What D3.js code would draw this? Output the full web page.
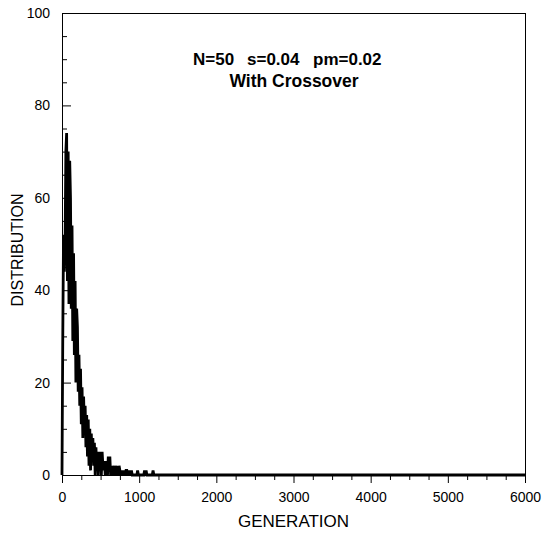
<!DOCTYPE html>
<html>
<head>
<meta charset="utf-8">
<script src="https://cdn.jsdelivr.net/npm/d3@7"></script>
<style>
  html, body { margin: 0; padding: 0; background: #fff; }
  svg { display: block; }
  text { font-family: "Liberation Sans", Arial, Helvetica, sans-serif; fill: #000; }
</style>
</head>
<body>
<svg id="chart" width="543" height="534"></svg>
<script>
// ---- data ----
const binWidth = 10;           // generations per sample
const distribution = [
  0, 30, 52, 44, 50, 70, 74, 42, 70, 37,
  68, 60, 36, 54, 29, 48, 26, 42, 20, 36,
  32, 18, 26, 15, 23, 11, 19, 8, 17, 10,
  15, 6, 13, 4, 12, 2, 10, 1, 9, 3,
  8, 2, 7, 0, 6, 1, 5, 0, 5, 1,
  5, 0, 5, 2, 1, 3, 0, 3, 1, 0,
  4, 1, 4, 0, 2, 0, 2, 1, 0, 2,
  1, 0, 2, 0, 2, 1, 0, 1, 0, 1,
  0, 1, 0, 1, 1, 0, 1, 0, 1, 0,
  1, 0, 0, 0, 0, 0, 0, 0, 1, 0,
  0, 0, 0, 0, 0, 0, 0, 1, 0, 1,
  0, 0, 0, 0, 0, 0, 0, 0, 1, 0
];
const tailGeneration = 6000;   // distribution stays at 0 up to here
const tailValue = 0;

const xMajorTicks = [0, 1000, 2000, 3000, 4000, 5000, 6000];
const xMinorStep = 250;
const yMajorTicks = [0, 20, 40, 60, 80, 100];
const yMinorStep = 5;

const titleParts = ["N=50", "s=0.04", "pm=0.02"];
const subtitle = "With Crossover";
const xLabel = "GENERATION";
const yLabel = "DISTRIBUTION";

// ---- layout ----
const svg = d3.select("#chart");
const mLeft = 62, mRight = 525, mTop = 13, mBottom = 475;

const x = d3.scaleLinear().domain([0, 6000]).range([mLeft, mRight]);
const y = d3.scaleLinear().domain([0, 100]).range([mBottom, mTop]);

const points = distribution.map((v, i) => [i * binWidth, v]);
points.push([tailGeneration, tailValue]);

// frame
svg.append("rect")
  .attr("x", mLeft + 0.5).attr("y", mTop + 0.5)
  .attr("width", mRight - mLeft).attr("height", mBottom - mTop)
  .attr("fill", "none").attr("stroke", "#000").attr("stroke-width", 1);

// data line
svg.append("path")
  .datum(points)
  .attr("fill", "none")
  .attr("stroke", "#000")
  .attr("stroke-width", 2.8)
  .attr("stroke-linejoin", "miter")
  .attr("d", d3.line().x(d => x(d[0])).y(d => y(d[1])));

// x axis (ticks outward, below)
const xMinor = d3.range(0, 6001, xMinorStep).filter(v => !xMajorTicks.includes(v));
svg.append("g")
  .attr("transform", `translate(0,${mBottom})`)
  .call(d3.axisBottom(x).tickValues(xMinor).tickSize(5).tickSizeOuter(0).tickFormat(""))
  .call(g => g.select(".domain").remove());
svg.append("g")
  .attr("transform", `translate(0,${mBottom})`)
  .call(d3.axisBottom(x).tickValues(xMajorTicks).tickSize(8).tickSizeOuter(0).tickPadding(9).tickFormat(d3.format("d")))
  .call(g => g.select(".domain").remove())
  .call(g => g.selectAll("text").attr("font-size", 14).attr("font-family", "Liberation Sans, Arial, sans-serif"));

// y axis (ticks inward, right of axis)
const yMinor = d3.range(0, 101, yMinorStep).filter(v => !yMajorTicks.includes(v));
svg.append("g")
  .attr("transform", `translate(${mLeft},0)`)
  .call(d3.axisLeft(y).tickValues(yMinor).tickSize(-5).tickSizeOuter(0).tickFormat(""))
  .call(g => g.select(".domain").remove());
svg.append("g")
  .attr("transform", `translate(${mLeft},0)`)
  .call(d3.axisLeft(y).tickValues(yMajorTicks).tickSize(-9).tickSizeOuter(0).tickPadding(12).tickFormat(d3.format("d")))
  .call(g => g.select(".domain").remove())
  .call(g => g.selectAll("text").attr("font-size", 14).attr("font-family", "Liberation Sans, Arial, sans-serif"));

svg.selectAll(".tick line").attr("stroke", "#000").attr("stroke-width", 1);

// title
const titleX = [193, 247, 313];
titleParts.forEach((t, i) => {
  svg.append("text")
    .attr("x", titleX[i]).attr("y", 65)
    .attr("font-size", 17).attr("font-weight", "bold")
    .text(t);
});
svg.append("text")
  .attr("x", 294).attr("y", 87)
  .attr("text-anchor", "middle")
  .attr("font-size", 17.5).attr("font-weight", "bold")
  .text(subtitle);

// axis titles
svg.append("text")
  .attr("x", (mLeft + mRight) / 2).attr("y", 527)
  .attr("text-anchor", "middle")
  .attr("font-size", 17)
  .text(xLabel);
svg.append("text")
  .attr("transform", "translate(23,250) rotate(-90)")
  .attr("text-anchor", "middle")
  .attr("font-size", 16)
  .text(yLabel);
</script>
</body>
</html>
